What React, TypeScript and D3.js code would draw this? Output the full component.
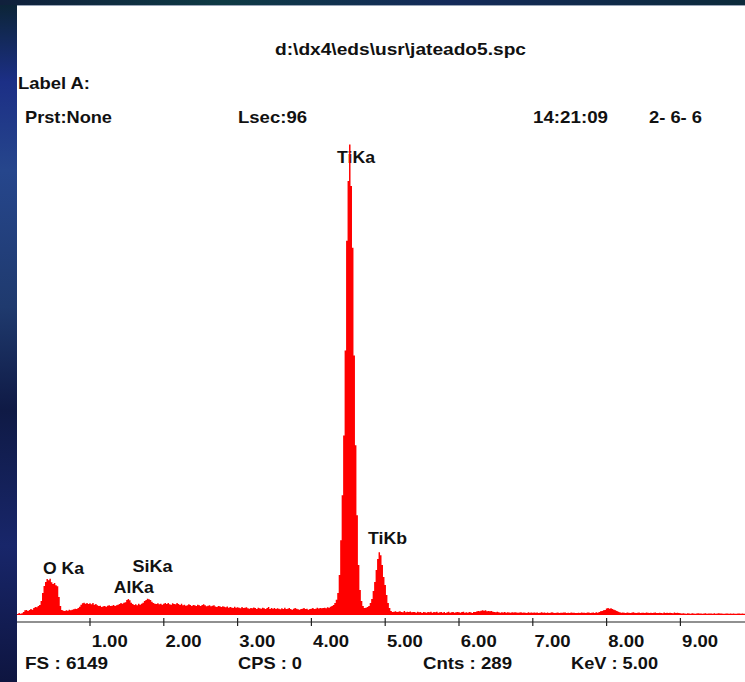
import React from "react";
import * as d3 from "d3";

// EDS spectrum, 0.02 keV per channel, counts
const channelKeV = 0.02;

// 0.00 - 2.98 keV
const countsLow = [
  14, 12, 25, 15, 24, 38, 63, 66, 52, 64,
  78, 67, 92, 104, 101, 118, 131, 183, 287, 378,
  430, 468, 452, 471, 428, 405, 417, 389, 376, 236,
  118, 66, 54, 51, 63, 55, 67, 62, 68, 76,
  81, 77, 91, 106, 132, 154, 159, 146, 157, 143,
  152, 141, 156, 133, 142, 128, 117, 121, 104, 115,
  118, 107, 119, 128, 116, 121, 131, 118, 127, 132,
  142, 155, 146, 158, 167, 196, 208, 193, 159, 143,
  131, 140, 128, 145, 133, 147, 158, 181, 197, 211,
  206, 194, 172, 157, 148, 144, 153, 141, 146, 134,
  146, 155, 143, 157, 141, 133, 152, 144, 139, 156,
  142, 131, 145, 128, 133, 119, 127, 141, 129, 118,
  131, 126, 117, 132, 128, 116, 130, 139, 127, 115,
  119, 128, 114, 121, 126, 112, 104, 118, 113, 103,
  115, 106, 101, 112, 93, 104, 99, 92, 106, 94,
];

// 3.00 - 5.98 keV
const countsMid = [
  101, 93, 88, 104, 90, 95, 102, 87, 81, 92,
  89, 98, 91, 79, 93, 87, 80, 94, 88, 79,
  91, 103, 78, 90, 82, 92, 77, 89, 80, 76,
  88, 79, 93, 78, 81, 90, 77, 69, 82, 91,
  80, 76, 68, 79, 83, 92, 78, 81, 67, 79,
  82, 90, 77, 80, 93, 84, 91, 88, 92, 95,
  89, 101, 94, 106, 118, 130, 157, 198, 286, 520,
  975, 1560, 2340, 3445, 4875, 5655, 6130, 5590, 4785, 3380,
  2210, 1300, 650, 325, 182, 117, 91, 93, 104, 118,
  156, 208, 312, 429, 585, 728, 819, 780, 650, 494,
  390, 260, 156, 91, 52, 39, 41, 50, 38, 42,
  49, 40, 37, 51, 36, 41, 38, 47, 35, 40,
  39, 29, 41, 36, 38, 27, 40, 37, 30, 38,
  36, 41, 28, 39, 35, 42, 30, 37, 40, 29,
  38, 27, 36, 41, 30, 37, 39, 28, 35, 40,
];

// 6.00 - 9.88 keV
const countsHigh = [
  37, 29, 38, 41, 28, 36, 30, 39, 35, 27,
  38, 40, 44, 52, 49, 56, 63, 54, 61, 50,
  53, 48, 51, 42, 39, 36, 41, 37, 30, 35,
  34, 38, 29, 36, 33, 28, 37, 31, 35, 32,
  30, 34, 36, 28, 33, 29, 27, 35, 30, 33,
  29, 34, 28, 33, 27, 30, 36, 28, 32, 26,
  33, 27, 30, 35, 28, 26, 29, 34, 27, 30,
  28, 31, 34, 26, 29, 27, 33, 28, 30, 26,
  27, 30, 26, 33, 28, 29, 25, 31, 34, 27,
  28, 32, 27, 36, 30, 38, 48, 53, 61, 66,
  86, 92, 80, 89, 77, 68, 63, 52, 41, 37,
  30, 34, 28, 27, 33, 29, 26, 30, 35, 28,
  27, 30, 33, 26, 29, 28, 25, 32, 29, 26,
  28, 25, 29, 33, 27, 26, 30, 27, 24, 32,
  26, 29, 25, 28, 27, 24, 31, 26, 28, 25,
  22, 18, 24, 21, 17, 23, 20, 16, 22, 19,
  17, 21, 23, 18, 20, 16, 19, 22, 17, 20,
  18, 21, 17, 23, 16, 19, 22, 18, 20, 17,
  16, 20, 18, 17, 21, 15, 19, 17, 16, 20,
  18, 16, 19, 17, 15,
];

const fullScale = 6149;
const tickValues = [1, 2, 3, 4, 5, 6, 7, 8, 9];

// peak labels: line energy (keV) and label height (counts)
const peakNames = ["O Ka", "AlKa", "SiKa", "TiKa", "TiKb"];
const peakKeV = [0.525, 1.486, 1.74, 4.51, 4.93];
const peakLabelCounts = [534, 287, 560, 5890, 925];

const footer = ["FS : 6149", "CPS : 0", "Cnts : 289", "KeV : 5.00"];

const W = 745;
const H = 682;
const font = "'Liberation Sans', Arial, sans-serif";

const T = ({ x, y, w, size = 17, children }: any) => (
  <text
    x={x}
    y={y}
    fontFamily={font}
    fontWeight="bold"
    fontSize={size}
    fill="#111"
    textLength={w}
    lengthAdjust="spacingAndGlyphs"
  >
    {children}
  </text>
);

export default function App() {
  const counts = [...countsLow, ...countsMid, ...countsHigh];
  const spectrum = counts.map((c, i) => ({ kev: i * channelKeV, c }));

  const x = d3.scaleLinear().domain([0, 10]).range([16.2, 754.2]);
  const y = d3.scaleLinear().domain([0, fullScale]).range([615, 143]);

  const area = d3
    .area<any>()
    .curve(d3.curveStep)
    .x((d) => x(d.kev))
    .y0(y(0))
    .y1((d) => y(d.c));

  const fmt = d3.format(".2f");
  const axisY = 622;
  const footerX = [25, 238, 423, 571];
  const footerW = [83, 64, 89, 87];
  const labelW = [41, 40, 40, 38, 39];

  return (
    <svg
      width={W}
      height={H}
      style={{ position: "absolute", left: 0, top: 0 }}
    >
      <defs>
        <linearGradient id="bg" x1="0" y1="0" x2="0" y2="1">
          <stop offset="0" stopColor="#0b2433" />
          <stop offset="0.12" stopColor="#1c2f86" />
          <stop offset="0.25" stopColor="#26468c" />
          <stop offset="0.45" stopColor="#1f3a6e" />
          <stop offset="0.6" stopColor="#0f1a45" />
          <stop offset="0.8" stopColor="#18266a" />
          <stop offset="1" stopColor="#0e1540" />
        </linearGradient>
        <linearGradient id="topbg" x1="0" y1="0" x2="1" y2="0">
          <stop offset="0" stopColor="#10203c" />
          <stop offset="0.3" stopColor="#0e3a44" />
          <stop offset="0.6" stopColor="#142a5a" />
          <stop offset="1" stopColor="#0c2a3a" />
        </linearGradient>
        <clipPath id="plot">
          <rect x={17} y={5} width={W - 17} height={H - 5} />
        </clipPath>
      </defs>

      <rect width={W} height={H} fill="url(#bg)" />
      <rect width={W} height={5} fill="url(#topbg)" />
      <rect x={17} y={5} width={W - 17} height={H - 5} fill="#fff" />
      <line x1={17} x2={W} y1={5.5} y2={5.5} stroke="#9aa6b8" />

      <T x={275} y={55} w={251}>d:\dx4\eds\usr\jateado5.spc</T>
      <T x={18} y={89} w={72}>Label A:</T>
      <T x={25} y={123} w={87}>Prst:None</T>
      <T x={238} y={123} w={69}>Lsec:96</T>
      <T x={533} y={123} w={75}>14:21:09</T>
      <T x={649} y={123} w={53}>2- 6- 6</T>

      {peakNames.map((n, i) => (
        <T key={n} x={x(peakKeV[i]) - 12} y={y(peakLabelCounts[i])} w={labelW[i]}>
          {n}
        </T>
      ))}

      <g clipPath="url(#plot)">
        <path d={area(spectrum) as string} fill="#ff0000" />
      </g>

      <line x1={17} x2={W} y1={axisY} y2={axisY} stroke="#222" strokeWidth={1.2} />
      {tickValues.map((t) => (
        <g key={t}>
          <line
            x1={x(t)}
            x2={x(t)}
            y1={axisY - 4}
            y2={axisY + 4}
            stroke="#222"
            strokeWidth={1.2}
          />
          <T x={x(t) + 1.7} y={647} w={36} size={16}>
            {fmt(t)}
          </T>
        </g>
      ))}

      {footer.map((s, i) => (
        <T key={s} x={footerX[i]} y={669} w={footerW[i]}>
          {s}
        </T>
      ))}
    </svg>
  );
}
